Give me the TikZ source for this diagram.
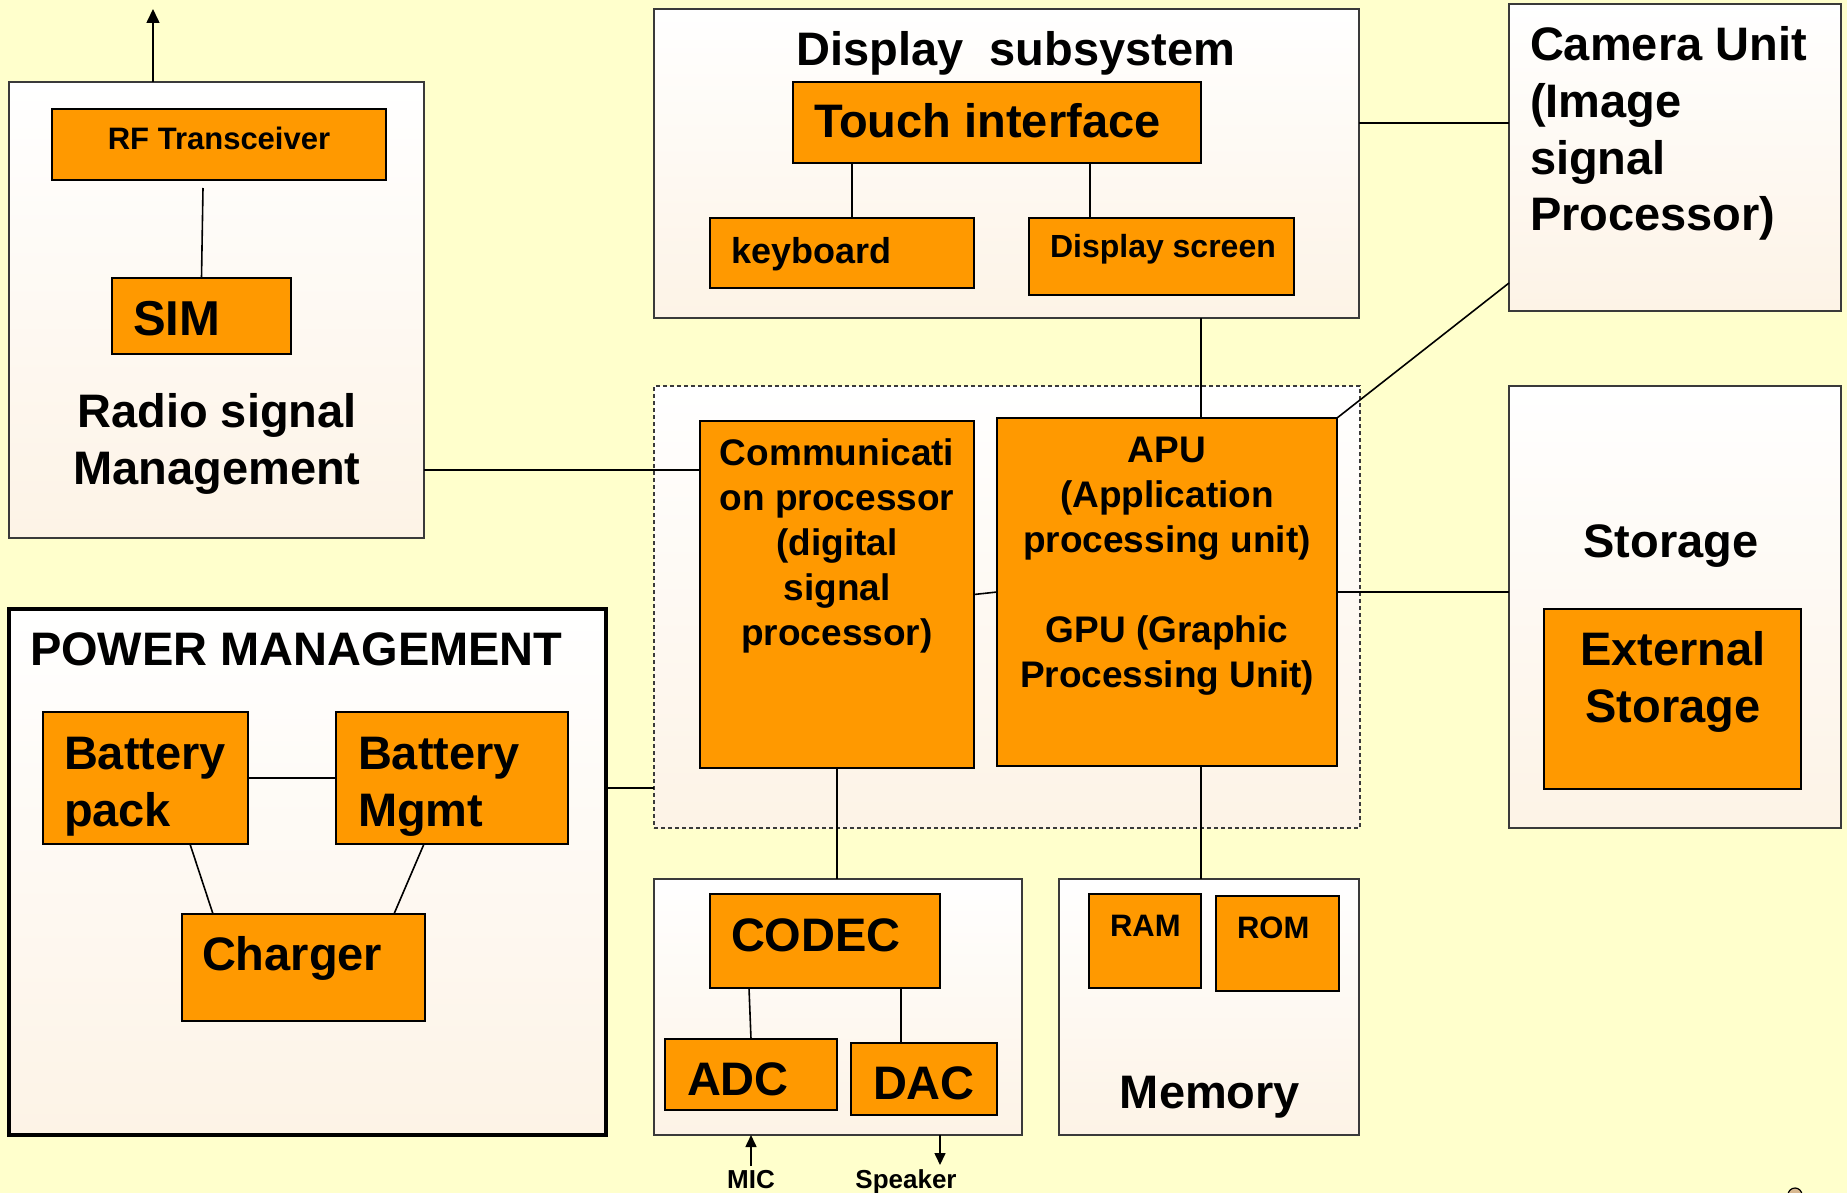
\documentclass[tikz,border=0pt]{standalone}
\usepackage{fontspec}
\setmainfont{Liberation Sans}
\usetikzlibrary{arrows.meta}
\definecolor{bgy}{HTML}{FFFFCC}
\definecolor{org}{HTML}{FF9900}
\definecolor{cream}{HTML}{FDF3E6}
\definecolor{edge}{HTML}{3A3A3A}
\definecolor{tanc}{HTML}{D8B890}
\begin{document}
\begin{tikzpicture}[x=1pt,y=-1pt,
  cont/.style={draw=edge, line width=1.5pt, top color=white, bottom color=cream, anchor=north west, inner sep=0pt, outer sep=0pt},
  obox/.style={draw=black, line width=2.2pt, fill=org, anchor=north west, inner sep=0pt, outer sep=0pt},
  conn/.style={line width=1.6pt, draw=black},
  arr/.style={conn, -{Triangle[length=14pt,width=13pt]}},
  sarr/.style={conn, -{Triangle[length=12pt,width=11pt]}},
  lbl/.style={inner sep=0pt, outer sep=0pt},
  fA/.style={lbl, font=\fontsize{47}{57}\selectfont\bfseries},
  fB/.style={lbl, font=\fontsize{37}{45}\selectfont\bfseries},
  fC/.style={lbl, font=\fontsize{31}{37}\selectfont\bfseries},
  fD/.style={lbl, font=\fontsize{26}{31}\selectfont\bfseries}]
\useasboundingbox (0,0) rectangle (1847,1193);
\fill[bgy] (0,0) rectangle (1847,1193);
\fill[tanc, draw=black, line width=1.2pt] (1795,1195) circle (7);

% containers
\node[cont, minimum width=415pt, minimum height=456pt] (radio) at (9,82) {};
\node[cont, minimum width=705pt, minimum height=309pt] (disp) at (654,9) {};
\node[cont, minimum width=332pt, minimum height=307pt] (cam) at (1509,4) {};
\node[cont, draw=edge, line width=1.2pt, dash pattern=on 4pt off 3pt, minimum width=706pt, minimum height=442pt] (dash) at (654,386) {};
\node[cont, minimum width=332pt, minimum height=442pt] (stor) at (1509,386) {};
\node[cont, draw=black, line width=4pt, minimum width=597pt, minimum height=526pt] (power) at (9,609) {};
\node[cont, minimum width=368pt, minimum height=256pt] (audio) at (654,879) {};
\node[cont, minimum width=300pt, minimum height=256pt] (mem) at (1059,879) {};

% orange boxes
\node[obox, minimum width=334pt, minimum height=71pt] (rf) at (52,109) {};
\node[obox, minimum width=179pt, minimum height=76pt] (sim) at (112,278) {};
\node[obox, minimum width=408pt, minimum height=81pt] (touch) at (793,82) {};
\node[obox, minimum width=264pt, minimum height=70pt] (kb) at (710,218) {};
\node[obox, minimum width=265pt, minimum height=77pt] (dscr) at (1029,218) {};
\node[obox, minimum width=274pt, minimum height=347pt] (comm) at (700,421) {};
\node[obox, minimum width=340pt, minimum height=348pt] (apu) at (997,418) {};
\node[obox, minimum width=257pt, minimum height=180pt] (ext) at (1544,609) {};
\node[obox, minimum width=205pt, minimum height=132pt] (bp) at (43,712) {};
\node[obox, minimum width=232pt, minimum height=132pt] (bm) at (336,712) {};
\node[obox, minimum width=243pt, minimum height=107pt] (chg) at (182,914) {};
\node[obox, minimum width=230pt, minimum height=94pt] (codec) at (710,894) {};
\node[obox, minimum width=172pt, minimum height=71pt] (adc) at (665,1039) {};
\node[obox, minimum width=146pt, minimum height=72pt] (dac) at (851,1043) {};
\node[obox, minimum width=112pt, minimum height=94pt] (ram) at (1089,894) {};
\node[obox, minimum width=123pt, minimum height=95pt] (rom) at (1216,896) {};

% connectors
\coordinate (antenna) at (153,9);
\draw[arr] (radio.north -| antenna) -- (antenna);
\coordinate (rfout) at (203,188);
\draw[conn] (rfout) -- (sim.north);
\draw[conn] (radio.east |- 0,470) -- (comm.west |- 0,470);
\draw[conn] (disp.east |- 0,123) -- (cam.west |- 0,123);
\draw[conn] ([yshift=28pt]cam.south west) -- (apu.north east);
\draw[conn] (disp.south -| 1201,0) -- (apu.north -| 1201,0);
\draw[conn] (touch.south -| 852,0) -- (kb.north -| 852,0);
\draw[conn] (touch.south -| 1090,0) -- (dscr.north -| 1090,0);
\draw[conn] (comm.east) -- (apu.west);
\draw[conn] (apu.east) -- (stor.west |- apu.east);
\draw[conn] (power.east |- 0,788) -- (dash.west |- 0,788);
\draw[conn] (comm.south) -- (audio.north -| comm.south);
\draw[conn] (apu.south -| 1201,0) -- (mem.north -| 1201,0);
\draw[conn] (bp.east) -- (bm.west);
\draw[conn] (bp.south -| 190,0) -- (chg.north -| 213,0);
\draw[conn] (bm.south -| 424,0) -- (chg.north -| 394,0);
\draw[conn] (codec.south -| 749,0) -- (adc.north -| 751,0);
\draw[conn] (codec.south -| 901,0) -- (dac.north -| 901,0);
\coordinate (micin) at (751,1166);
\coordinate (spkout) at (940,1165);
\draw[sarr] (micin) -- (audio.south -| micin);
\draw[sarr] (audio.south -| spkout) -- (spkout);

% texts (base anchor = baseline of the last line)
\node[fC, anchor=base] (rft) at (219,150) {RF Transceiver};
\node[lbl, font=\fontsize{49}{57}\selectfont\bfseries, anchor=base west] (simt) at (133,335) {SIM};
\node[fA, anchor=base, align=center] (radiot) at (217,484) {Radio signal\\Management};
\node[fA, anchor=base] (dispt) at (1016,66) {Display~~subsystem};
\node[fA, anchor=base west] (toucht) at (814,138) {Touch interface};
\node[lbl, font=\fontsize{36}{43}\selectfont\bfseries, anchor=base west] (kbt) at (731,263) {keyboard};
\node[lbl, font=\fontsize{32}{38}\selectfont\bfseries, anchor=base west] (dscrt) at (1050,258) {Display screen};
\node[fA, anchor=base west, align=left] (camt) at (1530,231) {Camera Unit\\(Image\\signal\\Processor)};
\node[fB, anchor=base, align=center] (commt) at (837,645) {Communicati\\on processor\\(digital\\signal\\processor)};
\node[fB, anchor=base, align=center] (aput) at (1167,687) {APU\\(Application\\processing unit)\\[45pt]GPU (Graphic\\Processing Unit)};
\node[fA, anchor=base] (stort) at (1671,557) {Storage};
\node[fA, anchor=base, align=center] (extt) at (1673,722) {External\\Storage};
\node[fA, anchor=base west] (powt) at (30,665) {POWER MANAGEMENT};
\node[fA, anchor=base west, align=left] (bpt) at (64,826) {Battery\\pack};
\node[fA, anchor=base west, align=left] (bmt) at (358,826) {Battery\\Mgmt};
\node[fA, anchor=base west] (chgt) at (202,970) {Charger};
\node[fA, anchor=base west] (codect) at (731,951) {CODEC};
\node[fA, anchor=base west] (adct) at (687,1095) {ADC};
\node[fA, anchor=base west] (dact) at (873,1099) {DAC};
\node[fC, anchor=base west] (ramt) at (1110,936) {RAM};
\node[fC, anchor=base west] (romt) at (1237,938) {ROM};
\node[fA, anchor=base] (memt) at (1210,1108) {Memory};
\node[fD, anchor=base] (mict) at (751,1188) {MIC};
\node[fD, anchor=base] (spkt) at (906,1188) {Speaker};
\end{tikzpicture}
\end{document}
